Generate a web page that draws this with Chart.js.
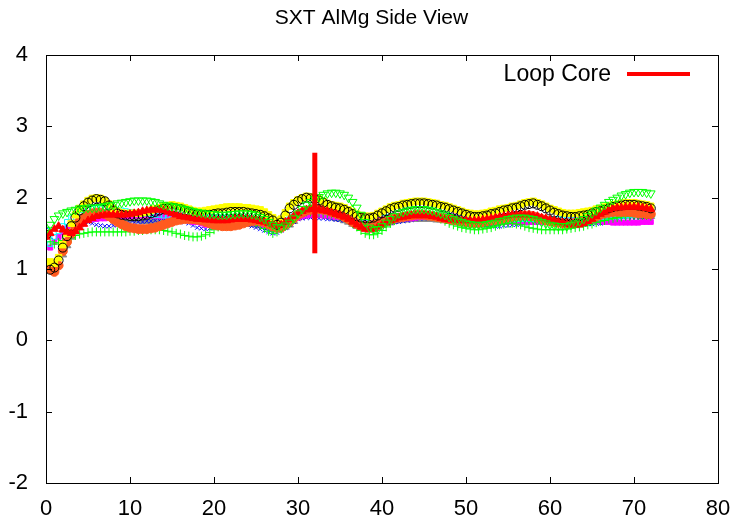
<!DOCTYPE html>
<html>
<head>
<meta charset="utf-8">
<title>SXT AlMg Side View</title>
<script src="https://cdn.jsdelivr.net/npm/chart.js@4.4.1/dist/chart.umd.min.js"></script>
<style>
    html, body { margin: 0; padding: 0; background: #fff; }
    #wrap { width: 743px; height: 520px; }
</style>
</head>
<body>
<div id="wrap"><canvas id="chart"></canvas></div>
<script>
// Sample times: every half unit from 0 to 72
const step = 0.5;

const titleText = 'SXT AlMg Side View';
const xTicks = [0, 10, 20, 30, 40, 50, 60, 70, 80];
const yTicks = [-2, -1, 0, 1, 2, 3, 4];

// Loop core marker (vertical bar)
const loopCoreLabel = 'Loop Core';
const loopCoreX = [32, 32];
const loopCoreY = [1.22, 2.63];

const blackCircles = [
    1.48,0.99,1.02,1.12,1.30,1.46,1.60,1.72,1.82,1.88,
    1.93,1.96,1.98,1.97,1.95,1.89,1.82,1.78,1.76,1.75,
    1.74,1.74,1.74,1.75,1.76,1.78,1.80,1.82,1.84,1.85,
    1.86,1.85,1.84,1.82,1.80,1.78,1.77,1.76,1.76,1.76,
    1.77,1.78,1.78,1.79,1.80,1.80,1.80,1.80,1.79,1.78,
    1.77,1.76,1.74,1.71,1.68,1.62,1.65,1.75,1.85,1.90,
    1.95,1.98,2.00,1.99,1.98,1.96,1.93,1.90,1.88,1.86,
    1.85,1.83,1.80,1.77,1.74,1.72,1.71,1.71,1.72,1.75,
    1.78,1.81,1.84,1.86,1.87,1.89,1.90,1.91,1.92,1.92,
    1.92,1.91,1.90,1.89,1.87,1.86,1.84,1.82,1.80,1.78,
    1.76,1.74,1.73,1.73,1.74,1.75,1.77,1.78,1.80,1.82,
    1.83,1.85,1.86,1.88,1.90,1.91,1.92,1.90,1.88,1.85,
    1.82,1.79,1.77,1.75,1.74,1.73,1.73,1.74,1.75,1.76,
    1.78,1.80,1.81,1.83,1.85,1.87,1.88,1.89,1.90,1.90,
    1.90,1.89,1.88,1.87,1.85
];

const yellowSquares = [
    1.50,1.10,1.08,1.16,1.34,1.50,1.64,1.76,1.85,1.91,
    1.96,1.99,2.00,1.99,1.96,1.91,1.85,1.81,1.79,1.78,
    1.78,1.78,1.78,1.79,1.80,1.82,1.84,1.86,1.88,1.89,
    1.90,1.89,1.88,1.86,1.84,1.82,1.81,1.81,1.82,1.83,
    1.84,1.85,1.86,1.87,1.87,1.87,1.87,1.86,1.86,1.85,
    1.84,1.83,1.80,1.76,1.72,1.68,1.70,1.79,1.88,1.93,
    1.97,2.00,2.02,2.01,2.00,1.98,1.95,1.92,1.90,1.89,
    1.88,1.86,1.83,1.80,1.77,1.75,1.74,1.74,1.75,1.78,
    1.81,1.84,1.87,1.89,1.90,1.92,1.93,1.94,1.95,1.95,
    1.95,1.94,1.93,1.92,1.90,1.89,1.87,1.85,1.83,1.81,
    1.79,1.78,1.77,1.77,1.78,1.79,1.81,1.82,1.84,1.85,
    1.86,1.88,1.89,1.91,1.93,1.94,1.95,1.93,1.91,1.88,
    1.85,1.83,1.81,1.79,1.78,1.78,1.78,1.79,1.80,1.81,
    1.82,1.84,1.85,1.87,1.88,1.90,1.91,1.92,1.93,1.93,
    1.93,1.92,1.91,1.90,1.88
];

const redTriangles = [
    1.45,1.50,1.56,1.60,1.55,1.52,1.50,1.53,1.58,1.63,
    1.68,1.71,1.74,1.75,1.76,1.76,1.76,1.76,1.76,1.76,
    1.77,1.78,1.79,1.81,1.82,1.83,1.83,1.83,1.82,1.80,
    1.78,1.76,1.74,1.73,1.72,1.71,1.70,1.70,1.69,1.69,
    1.68,1.68,1.68,1.68,1.69,1.70,1.70,1.70,1.70,1.69,
    1.68,1.67,1.66,1.64,1.62,1.61,1.62,1.66,1.70,1.74,
    1.78,1.81,1.83,1.84,1.84,1.83,1.82,1.81,1.79,1.77,
    1.75,1.73,1.70,1.66,1.62,1.59,1.56,1.55,1.56,1.59,
    1.62,1.65,1.68,1.70,1.72,1.73,1.74,1.75,1.75,1.75,
    1.75,1.75,1.74,1.73,1.71,1.70,1.69,1.69,1.68,1.68,
    1.68,1.68,1.68,1.68,1.69,1.70,1.71,1.72,1.73,1.74,
    1.75,1.76,1.76,1.76,1.76,1.76,1.75,1.74,1.72,1.71,
    1.69,1.68,1.66,1.65,1.63,1.62,1.62,1.62,1.64,1.67,
    1.70,1.74,1.77,1.80,1.83,1.85,1.86,1.86,1.87,1.87,
    1.87,1.87,1.86,1.85,1.84
];

const orangeCircles = [
    1.48,1.00,0.96,1.05,1.25,1.38,1.50,1.59,1.67,1.72,
    1.76,1.78,1.79,1.79,1.77,1.74,1.70,1.66,1.63,1.60,
    1.58,1.57,1.56,1.56,1.56,1.57,1.58,1.60,1.62,1.64,
    1.66,1.68,1.69,1.70,1.70,1.70,1.69,1.68,1.66,1.64,
    1.62,1.61,1.60,1.60,1.60,1.61,1.62,1.64,1.66,1.67,
    1.68,1.67,1.66,1.63,1.60,1.58,1.58,1.62,1.66,1.71,
    1.76,1.79,1.82,1.83,1.84,1.84,1.83,1.82,1.80,1.78,
    1.76,1.73,1.70,1.66,1.63,1.61,1.60,1.61,1.62,1.64,
    1.66,1.68,1.70,1.71,1.72,1.73,1.74,1.75,1.76,1.76,
    1.76,1.75,1.74,1.73,1.72,1.71,1.70,1.69,1.68,1.67,
    1.66,1.65,1.65,1.65,1.66,1.67,1.68,1.69,1.70,1.71,
    1.72,1.73,1.74,1.75,1.75,1.75,1.74,1.72,1.70,1.68,
    1.67,1.66,1.65,1.64,1.64,1.64,1.65,1.66,1.68,1.70,
    1.72,1.74,1.76,1.78,1.79,1.80,1.80,1.80,1.80,1.80,
    1.79,1.78,1.78,1.77,1.77
];

const grayTriangles = [
    1.46,1.05,1.02,1.08,1.20,1.33,1.45,1.54,1.62,1.67,
    1.70,1.71,1.72,1.72,1.72,1.72,1.72,1.71,1.71,1.70,
    1.70,1.69,1.68,1.67,1.67,1.67,1.67,1.67,1.68,1.69,
    1.69,1.70,1.70,1.70,1.69,1.68,1.68,1.67,1.66,1.65,
    1.64,1.63,1.63,1.62,1.62,1.62,1.63,1.63,1.64,1.63,
    1.62,1.61,1.60,1.58,1.56,1.56,1.57,1.59,1.62,1.67,
    1.72,1.74,1.75,1.76,1.76,1.76,1.75,1.74,1.73,1.71,
    1.70,1.68,1.66,1.63,1.60,1.59,1.58,1.59,1.60,1.61,
    1.62,1.64,1.65,1.67,1.68,1.69,1.69,1.70,1.70,1.70,
    1.70,1.70,1.70,1.69,1.69,1.68,1.67,1.66,1.65,1.64,
    1.63,1.62,1.62,1.62,1.62,1.63,1.63,1.64,1.65,1.66,
    1.66,1.67,1.67,1.68,1.68,1.68,1.68,1.67,1.67,1.66,
    1.66,1.65,1.64,1.63,1.63,1.63,1.63,1.63,1.64,1.65,
    1.67,1.69,1.70,1.71,1.73,1.74,1.74,1.75,1.75,1.75,
    1.75,1.75,1.74,1.74,1.74
];

const blueCrosses = [
    1.55,1.45,1.40,1.46,1.55,1.60,1.65,1.67,1.68,1.67,
    1.66,1.64,1.62,1.61,1.60,1.60,1.61,1.62,1.63,1.63,
    1.64,1.65,1.66,1.66,1.67,1.67,1.68,1.68,1.68,1.68,
    1.68,1.68,1.68,1.66,1.64,1.61,1.58,1.57,1.56,1.57,
    1.58,1.59,1.60,1.61,1.62,1.62,1.62,1.62,1.62,1.60,
    1.58,1.56,1.54,1.52,1.50,1.51,1.54,1.58,1.62,1.66,
    1.70,1.71,1.72,1.72,1.72,1.71,1.71,1.70,1.70,1.69,
    1.69,1.68,1.68,1.67,1.66,1.66,1.66,1.66,1.66,1.66,
    1.66,1.66,1.66,1.66,1.66,1.67,1.68,1.69,1.70,1.71,
    1.71,1.72,1.72,1.72,1.71,1.71,1.70,1.69,1.67,1.66,
    1.66,1.65,1.64,1.63,1.62,1.61,1.61,1.60,1.60,1.61,
    1.61,1.62,1.62,1.63,1.64,1.65,1.66,1.66,1.66,1.66,
    1.66,1.65,1.65,1.64,1.64,1.63,1.62,1.62,1.62,1.63,
    1.63,1.64,1.64,1.65,1.66,1.67,1.68,1.69,1.69,1.70,
    1.70,1.70,1.69,1.69,1.68
];

const magentaSquares = [
    1.50,1.30,1.38,1.45,1.52,1.57,1.62,1.65,1.68,1.69,
    1.69,1.70,1.70,1.71,1.71,1.72,1.72,1.73,1.73,1.74,
    1.74,1.75,1.75,1.75,1.75,1.75,1.75,1.74,1.74,1.73,
    1.73,1.72,1.72,1.70,1.68,1.66,1.66,1.64,1.62,1.62,
    1.62,1.63,1.64,1.65,1.66,1.67,1.68,1.68,1.68,1.67,
    1.65,1.64,1.62,1.60,1.57,1.57,1.60,1.64,1.67,1.70,
    1.72,1.74,1.75,1.76,1.76,1.76,1.75,1.75,1.74,1.73,
    1.73,1.72,1.72,1.71,1.71,1.70,1.70,1.70,1.70,1.70,
    1.70,1.70,1.70,1.70,1.70,1.71,1.71,1.71,1.72,1.73,
    1.73,1.74,1.74,1.74,1.74,1.74,1.74,1.74,1.73,1.73,
    1.72,1.71,1.70,1.69,1.68,1.67,1.67,1.66,1.66,1.66,
    1.66,1.66,1.66,1.66,1.66,1.66,1.66,1.66,1.66,1.66,
    1.66,1.67,1.67,1.67,1.68,1.68,1.68,1.68,1.68,1.68,
    1.68,1.67,1.67,1.66,1.66,1.65,1.65,1.65,1.65,1.65,
    1.65,1.65,1.66,1.66,1.66
];

const cyanSquares = [
    1.55,1.35,1.45,1.53,1.60,1.66,1.72,1.76,1.80,1.82,
    1.84,1.85,1.86,1.86,1.85,1.85,1.84,1.83,1.82,1.81,
    1.80,1.79,1.78,1.78,1.78,1.77,1.76,1.76,1.75,1.75,
    1.74,1.74,1.74,1.73,1.72,1.72,1.72,1.72,1.72,1.72,
    1.72,1.72,1.72,1.72,1.72,1.72,1.72,1.72,1.72,1.71,
    1.70,1.69,1.68,1.65,1.62,1.62,1.64,1.68,1.72,1.74,
    1.76,1.79,1.82,1.82,1.82,1.81,1.81,1.80,1.80,1.79,
    1.78,1.77,1.76,1.74,1.73,1.72,1.72,1.72,1.72,1.72,
    1.72,1.73,1.73,1.74,1.74,1.75,1.75,1.76,1.76,1.76,
    1.76,1.76,1.76,1.76,1.75,1.75,1.74,1.73,1.72,1.71,
    1.70,1.69,1.69,1.68,1.68,1.68,1.68,1.68,1.68,1.69,
    1.69,1.70,1.70,1.70,1.70,1.70,1.70,1.70,1.70,1.70,
    1.70,1.70,1.70,1.70,1.70,1.70,1.70,1.70,1.70,1.71,
    1.71,1.72,1.72,1.73,1.73,1.74,1.74,1.75,1.75,1.76,
    1.76,1.76,1.76,1.76,1.76
];

const greenPlus = [
    1.45,1.38,1.35,1.37,1.40,1.42,1.44,1.47,1.49,1.50,
    1.51,1.52,1.52,1.52,1.52,1.52,1.52,1.52,1.52,1.52,
    1.53,1.53,1.54,1.54,1.55,1.55,1.55,1.55,1.54,1.53,
    1.52,1.50,1.49,1.47,1.46,1.45,1.45,1.46,1.48,1.51,
    1.55,1.59,1.63,1.66,1.68,1.70,1.71,1.71,1.70,1.68,
    1.65,1.61,1.57,1.53,1.50,1.52,1.56,1.62,1.68,1.73,
    1.77,1.79,1.80,1.80,1.80,1.79,1.78,1.78,1.77,1.76,
    1.74,1.72,1.68,1.64,1.59,1.54,1.50,1.48,1.48,1.50,
    1.54,1.59,1.64,1.68,1.72,1.74,1.76,1.77,1.78,1.78,
    1.77,1.76,1.74,1.72,1.70,1.67,1.64,1.62,1.60,1.58,
    1.57,1.56,1.55,1.55,1.56,1.57,1.58,1.60,1.62,1.63,
    1.64,1.64,1.63,1.62,1.60,1.58,1.57,1.56,1.55,1.55,
    1.55,1.55,1.55,1.55,1.56,1.57,1.58,1.59,1.60,1.62,
    1.63,1.65,1.67,1.68,1.70,1.71,1.72,1.73,1.74,1.74,
    1.75,1.75,1.75,1.75,1.74
];

const greenTriangles = [
    1.55,1.62,1.70,1.75,1.78,1.80,1.82,1.83,1.85,1.85,
    1.86,1.86,1.86,1.87,1.88,1.89,1.90,1.92,1.93,1.94,
    1.95,1.96,1.96,1.96,1.96,1.95,1.94,1.92,1.90,1.89,
    1.88,1.87,1.86,1.84,1.83,1.81,1.80,1.79,1.78,1.77,
    1.77,1.76,1.76,1.76,1.77,1.77,1.78,1.78,1.78,1.77,
    1.76,1.73,1.70,1.66,1.62,1.59,1.58,1.61,1.65,1.71,
    1.78,1.84,1.90,1.94,1.98,2.01,2.04,2.06,2.07,2.07,
    2.06,2.04,2.00,1.94,1.86,1.76,1.66,1.58,1.55,1.56,
    1.60,1.65,1.70,1.74,1.78,1.80,1.82,1.83,1.84,1.84,
    1.84,1.83,1.82,1.80,1.78,1.76,1.73,1.70,1.68,1.66,
    1.64,1.63,1.62,1.62,1.62,1.63,1.64,1.65,1.67,1.68,
    1.70,1.71,1.72,1.72,1.72,1.71,1.70,1.68,1.66,1.64,
    1.62,1.61,1.60,1.60,1.60,1.62,1.64,1.67,1.70,1.74,
    1.78,1.82,1.86,1.90,1.94,1.97,2.00,2.03,2.05,2.07,
    2.08,2.08,2.08,2.07,2.06
];

const FONT = "'Liberation Sans', Arial, Helvetica, sans-serif";

function toPoints(values) {
    return values.map((v, i) => ({ x: i * step, y: v }));
}

function markers(values, color, style, radius, filled, rotation) {
    return {
        data: toPoints(values),
        showLine: false,
        pointStyle: style,
        pointRadius: radius,
        pointRotation: rotation || 0,
        pointBorderColor: color,
        pointBackgroundColor: filled ? color : 'rgba(0,0,0,0)',
        pointBorderWidth: 1,
        pointHoverRadius: radius
    };
}

// Title, key, frame and inward ticks, drawn gnuplot style
const framePlugin = {
    id: 'frame',
    afterDraw(chart) {
        const ctx = chart.ctx;
        const a = chart.chartArea;
        const xs = chart.scales.x;
        const ys = chart.scales.y;
        const tick = 6;
        ctx.save();
        ctx.strokeStyle = '#000';
        ctx.lineWidth = 1;
        ctx.beginPath();
        xTicks.forEach(t => {
            const px = Math.round(xs.getPixelForValue(t)) + 0.5;
            ctx.moveTo(px, a.bottom); ctx.lineTo(px, a.bottom - tick);
            ctx.moveTo(px, a.top); ctx.lineTo(px, a.top + tick);
        });
        yTicks.forEach(t => {
            const py = Math.round(ys.getPixelForValue(t)) + 0.5;
            ctx.moveTo(a.left, py); ctx.lineTo(a.left + tick, py);
            ctx.moveTo(a.right, py); ctx.lineTo(a.right - tick, py);
        });
        ctx.stroke();
        ctx.strokeRect(Math.round(a.left) + 0.5, Math.round(a.top) + 0.5,
            Math.round(a.right - a.left), Math.round(a.bottom - a.top));

        ctx.fillStyle = '#000';
        ctx.font = '21px ' + FONT;
        ctx.textAlign = 'center';
        ctx.textBaseline = 'middle';
        ctx.fillText(titleText, chart.width / 2, 18);

        // key in the upper right corner
        const ds = chart.data.datasets[0];
        ctx.font = '23px ' + FONT;
        ctx.textAlign = 'right';
        ctx.fillText(ds.label, a.right - 107, a.top + 20);
        ctx.strokeStyle = ds.borderColor;
        ctx.lineWidth = 4;
        ctx.beginPath();
        ctx.moveTo(a.right - 91, a.top + 19);
        ctx.lineTo(a.right - 28, a.top + 19);
        ctx.stroke();
        ctx.restore();
    }
};

const ctx = document.getElementById('chart').getContext('2d');

// first dataset is painted last (on top)
new Chart(ctx, {
    type: 'scatter',
    data: {
        datasets: [
            {
                label: loopCoreLabel,
                data: loopCoreX.map((x, i) => ({ x: x, y: loopCoreY[i] })),
                showLine: true,
                borderColor: '#ff0000',
                borderWidth: 5,
                pointRadius: 0,
                borderCapStyle: 'butt'
            },
            markers(greenTriangles, '#00ff00', 'triangle', 5, false, 180),
            markers(redTriangles, '#ff0000', 'triangle', 4.5, true),
            markers(blackCircles, '#000000', 'circle', 4.5, false),
            markers(yellowSquares, '#ffff00', 'rect', 4.5, true),
            markers(orangeCircles, '#ff5a1e', 'circle', 4.5, true),
            markers(greenPlus, '#00ff00', 'cross', 4.5, false),
            markers(cyanSquares, '#00ffff', 'rect', 3.5, false),
            markers(magentaSquares, '#ff00ff', 'rect', 3.5, true),
            markers(blueCrosses, '#0000ff', 'crossRot', 3, false),
            markers(grayTriangles, '#8a8a8a', 'triangle', 4.5, true)
        ]
    },
    options: {
        responsive: true,
        maintainAspectRatio: false,
        animation: false,
        layout: { padding: { top: 55, right: 25, left: 0, bottom: 0 } },
        plugins: {
            legend: { display: false },
            title: { display: false },
            tooltip: { enabled: false }
        },
        scales: {
            x: {
                type: 'linear',
                min: 0,
                max: 80,
                afterFit: s => { s.height = 37; },
                afterBuildTicks: s => { s.ticks = xTicks.map(v => ({ value: v })); },
                grid: { display: false },
                border: { display: false },
                ticks: { color: '#000', padding: 5, maxRotation: 0, font: { family: FONT, size: 22 } }
            },
            y: {
                min: -2,
                max: 4,
                afterFit: s => { s.width = 46; },
                afterBuildTicks: s => { s.ticks = yTicks.map(v => ({ value: v })); },
                grid: { display: false },
                border: { display: false },
                ticks: { color: '#000', padding: 10, font: { family: FONT, size: 22 } }
            }
        }
    },
    plugins: [framePlugin]
});
</script>
</body>
</html>
